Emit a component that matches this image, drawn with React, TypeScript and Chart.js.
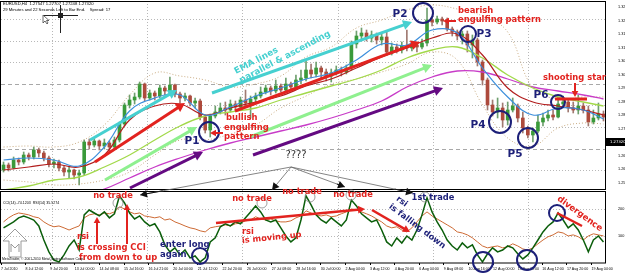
import React, { useEffect, useRef } from 'react';
import { Chart, registerables } from 'chart.js';
Chart.register(...registerables);

// ---------- DATA ----------
const dateLabels = [
  '7 Jul 2010', '8 Jul 12:00', '9 Jul 20:00', '13 Jul 00:00', '14 Jul 08:00', '15 Jul 16:00',
  '16 Jul 21:00', '20 Jul 04:00', '21 Jul 12:00', '22 Jul 20:00', '26 Jul 00:00', '27 Jul 08:00',
  '28 Jul 16:00', '30 Jul 00:00', '2 Aug 04:00', '3 Aug 12:00', '4 Aug 20:00', '6 Aug 04:00',
  '9 Aug 08:00', '10 Aug 16:00', '12 Aug 00:00', '13 Aug 08:00', '16 Aug 12:00', '17 Aug 20:00', '19 Aug 04:00',
];
const candlesPerLabel = 4.88;

const firstOpen = 1.2620;
const closes = [
  1.2640, 1.2628, 1.2660, 1.2652, 1.2680, 1.2672, 1.2700, 1.2688, 1.2668, 1.2644,
  1.2652, 1.2628, 1.2612, 1.2620, 1.2600, 1.2608, 1.2732, 1.2720, 1.2736, 1.2716,
  1.2728, 1.2712, 1.2740, 1.2804, 1.2880, 1.2900, 1.2912, 1.2964, 1.2908, 1.2928,
  1.2916, 1.2948, 1.2936, 1.2960, 1.2924, 1.2908, 1.2916, 1.2888, 1.2896, 1.2832,
  1.2780, 1.2836, 1.2852, 1.2868, 1.2860, 1.2884, 1.2872, 1.2900, 1.2888, 1.2904,
  1.2916, 1.2932, 1.2948, 1.2936, 1.2956, 1.2940, 1.2964, 1.2952, 1.2980, 1.2988,
  1.3020, 1.3004, 1.3028, 1.3012, 1.2996, 1.3008, 1.3020, 1.3012, 1.3028, 1.3124,
  1.3156, 1.3168, 1.3148, 1.3160, 1.3140, 1.3152, 1.3092, 1.3112, 1.3100, 1.3116,
  1.3108, 1.3120, 1.3112, 1.3128, 1.3220, 1.3212, 1.3224, 1.3216, 1.3184, 1.3172,
  1.3156, 1.3164, 1.3120, 1.3140, 1.3052, 1.2980, 1.2880, 1.2852, 1.2868, 1.2820,
  1.2860, 1.2876, 1.2828, 1.2788, 1.2760, 1.2776, 1.2812, 1.2828, 1.2840, 1.2832,
  1.2884, 1.2892, 1.2868, 1.2860, 1.2876, 1.2860, 1.2812, 1.2828, 1.2844, 1.2832,
];
const highs = [
  1.2652, 1.2648, 1.2672, 1.2668, 1.2692, 1.2688, 1.2712, 1.2708, 1.2696, 1.2676,
  1.2664, 1.2660, 1.2636, 1.2632, 1.2624, 1.2620, 1.2740, 1.2744, 1.2748, 1.2740,
  1.2744, 1.2736, 1.2752, 1.2812, 1.2888, 1.2920, 1.2928, 1.2972, 1.2968, 1.2940,
  1.2936, 1.2960, 1.2956, 1.2992, 1.2964, 1.2932, 1.2928, 1.2920, 1.2908, 1.2904,
  1.2840, 1.2844, 1.2876, 1.2888, 1.2892, 1.2900, 1.2896, 1.2912, 1.2940, 1.2916,
  1.2928, 1.2952, 1.2960, 1.2956, 1.2980, 1.2964, 1.2988, 1.2972, 1.3000, 1.3020,
  1.3060, 1.3044, 1.3052, 1.3036, 1.3024, 1.3024, 1.3036, 1.3032, 1.3040, 1.3136,
  1.3176, 1.3188, 1.3180, 1.3176, 1.3168, 1.3164, 1.3172, 1.3128, 1.3124, 1.3132,
  1.3180, 1.3136, 1.3132, 1.3144, 1.3268, 1.3228, 1.3236, 1.3232, 1.3228, 1.3192,
  1.3180, 1.3176, 1.3176, 1.3160, 1.3148, 1.3060, 1.2988, 1.2900, 1.2908, 1.2888,
  1.2892, 1.2908, 1.2884, 1.2852, 1.2796, 1.2788, 1.2840, 1.2848, 1.2860, 1.2860,
  1.2912, 1.2916, 1.2900, 1.2892, 1.2920, 1.2888, 1.2876, 1.2860, 1.2888, 1.2856,
];
const lows = [
  1.2612, 1.2616, 1.2624, 1.2640, 1.2644, 1.2660, 1.2664, 1.2672, 1.2656, 1.2632,
  1.2628, 1.2616, 1.2596, 1.2588, 1.2584, 1.2560, 1.2600, 1.2704, 1.2712, 1.2700,
  1.2704, 1.2696, 1.2704, 1.2732, 1.2796, 1.2868, 1.2884, 1.2904, 1.2896, 1.2900,
  1.2900, 1.2908, 1.2920, 1.2928, 1.2912, 1.2888, 1.2896, 1.2876, 1.2868, 1.2820,
  1.2768, 1.2752, 1.2828, 1.2844, 1.2840, 1.2852, 1.2856, 1.2864, 1.2876, 1.2828,
  1.2888, 1.2908, 1.2924, 1.2920, 1.2928, 1.2932, 1.2936, 1.2940, 1.2944, 1.2964,
  1.2976, 1.2988, 1.2992, 1.2984, 1.2976, 1.2972, 1.3000, 1.2996, 1.3004, 1.3020,
  1.3108, 1.3140, 1.3136, 1.3132, 1.3124, 1.3120, 1.3080, 1.3080, 1.3088, 1.3088,
  1.3096, 1.3096, 1.3092, 1.3104, 1.3116, 1.3196, 1.3204, 1.3200, 1.3176, 1.3156,
  1.3140, 1.3124, 1.3092, 1.3068, 1.3036, 1.2960, 1.2860, 1.2836, 1.2828, 1.2792,
  1.2800, 1.2852, 1.2812, 1.2768, 1.2748, 1.2732, 1.2768, 1.2796, 1.2816, 1.2820,
  1.2828, 1.2872, 1.2852, 1.2848, 1.2844, 1.2848, 1.2796, 1.2804, 1.2820, 1.2816,
];

// moving averages & bands sampled every 5 candles
const maIndex = [0, 5, 10, 15, 20, 25, 30, 35, 40, 45, 50, 55, 60, 65, 70, 75, 80, 85, 90, 95, 100, 105, 110, 115, 119];
const emaFast = [1.2660, 1.2668, 1.2660, 1.2636, 1.2712, 1.2856, 1.2908, 1.2920, 1.2840, 1.2872, 1.2916, 1.2948, 1.2984, 1.3008, 1.3060, 1.3124, 1.3120, 1.3180, 1.3168, 1.3028, 1.2912, 1.2840, 1.2868, 1.2860, 1.2824];
const emaMid = [1.2620, 1.2632, 1.2644, 1.2632, 1.2680, 1.2820, 1.2876, 1.2884, 1.2840, 1.2868, 1.2892, 1.2916, 1.2956, 1.2984, 1.3028, 1.3072, 1.3108, 1.3148, 1.3164, 1.3080, 1.2948, 1.2892, 1.2876, 1.2860, 1.2840];
const emaSlow = [1.2540, 1.2556, 1.2580, 1.2592, 1.2632, 1.2680, 1.2740, 1.2796, 1.2836, 1.2852, 1.2868, 1.2900, 1.2928, 1.2956, 1.2984, 1.3020, 1.3068, 1.3100, 1.3112, 1.3068, 1.3000, 1.2948, 1.2912, 1.2892, 1.2876];
const emaLong = [1.2440, 1.2468, 1.2492, 1.2516, 1.2544, 1.2588, 1.2632, 1.2668, 1.2700, 1.2728, 1.2752, 1.2776, 1.2800, 1.2828, 1.2860, 1.2896, 1.2952, 1.2992, 1.3016, 1.3012, 1.2984, 1.2952, 1.2936, 1.2920, 1.2904];
const bandUpper = [1.2712, 1.2716, 1.2712, 1.2732, 1.2800, 1.2920, 1.3008, 1.2996, 1.2980, 1.2952, 1.2964, 1.2996, 1.3072, 1.3112, 1.3188, 1.3220, 1.3260, 1.3280, 1.3264, 1.3236, 1.3172, 1.2948, 1.2904, 1.2912, 1.2912];
const bandLower = [1.2580, 1.2572, 1.2560, 1.2564, 1.2580, 1.2612, 1.2680, 1.2740, 1.2740, 1.2764, 1.2800, 1.2868, 1.2916, 1.2964, 1.2984, 1.3012, 1.3044, 1.3092, 1.3060, 1.2880, 1.2748, 1.2716, 1.2788, 1.2808, 1.2804];

// lower window: CCI (green) and RSI (orange)
const cci = [
  130, 141, 152, 167, 174, 167, 159, 137, 85, 41,
  11, 4, 30, 63, 85, 48, 178, 196, 185, 174,
  189, 167, 182, 248, 222, 185, 163, 174, 152, 137,
  145, 115, 67, 41, 56, 30, 48, 19, 26, 4,
  19, 78, 93, 134, 145, 137, 152, 145, 167, 189,
  211, 189, 159, 152, 159, 130, 100, 78, 93, 159,
  248, 215, 178, 159, 148, 167, 152, 137, 159, 233,
  211, 182, 167, 152, 159, 122, 78, 63, 93, 74,
  100, 85, 122, 178, 241, 189, 152, 122, 85, 63,
  48, 74, 56, 67, 30, 4, 34, 56, 41, 48,
  63, 56, 34, 15, 30, 56, 85, 115, 137, 152,
  185, 159, 130, 145, 122, 85, 41, 85, 100, 78,
];
const rsi = [
  152, 167, 178, 185, 182, 178, 171, 167, 152, 141,
  134, 137, 130, 122, 130, 137, 167, 178, 182, 178,
  185, 182, 189, 208, 200, 189, 182, 185, 174, 171,
  167, 171, 159, 163, 152, 145, 137, 130, 126, 119,
  115, 130, 134, 137, 141, 137, 145, 148, 156, 159,
  171, 163, 159, 163, 156, 152, 152, 156, 167, 174,
  193, 185, 178, 174, 178, 171, 174, 182, 189, 200,
  196, 189, 182, 174, 163, 152, 137, 130, 134, 122,
  115, 130, 152, 174, 189, 174, 163, 152, 141, 130,
  115, 111, 104, 93, 78, 63, 56, 60, 63, 56,
  60, 71, 63, 52, 48, 56, 71, 85, 97, 104,
  115, 111, 100, 104, 97, 85, 100, 108, 104, 100,
];

const priceTicks = [1.3272, 1.3218, 1.3164, 1.3110, 1.3056, 1.3002, 1.2948, 1.2894, 1.2840, 1.2786, 1.2678, 1.2624, 1.2570];
const bidPrice = 1.2732;
const indTicks = [200, 100];
const gridPrices = [1.3224, 1.3136, 1.3052, 1.2964, 1.2880, 1.2792, 1.2704, 1.2620];
const dashedGridPrices = [1.2964, 1.2704];
const gridCandles = [9.6, 28.5, 47.3, 66.3, 85.2, 104.0];

// ---------- helpers ----------
const FONT = '"DejaVu Sans", sans-serif';
const bold = (s: number) => `bold ${s}px ${FONT}`;
const RED = '#e2231f';
const NAVY = '#1c1f78';
const CYAN = '#46d0d0';
const LGREEN = '#8ff08f';
const PURPLE = '#640a82';

function arrow(ctx: CanvasRenderingContext2D, x1: number, y1: number, x2: number, y2: number, color: string, w: number, head: number) {
  const a = Math.atan2(y2 - y1, x2 - x1);
  const c = Math.cos(a), s = Math.sin(a);
  ctx.save();
  ctx.strokeStyle = color; ctx.fillStyle = color; ctx.lineWidth = w; ctx.setLineDash([]);
  ctx.beginPath(); ctx.moveTo(x1, y1); ctx.lineTo(x2 - c * head * 0.7, y2 - s * head * 0.7); ctx.stroke();
  ctx.beginPath();
  ctx.moveTo(x2, y2);
  ctx.lineTo(x2 - head * c + head * 0.55 * s, y2 - head * s - head * 0.55 * c);
  ctx.lineTo(x2 - head * c - head * 0.55 * s, y2 - head * s + head * 0.55 * c);
  ctx.closePath(); ctx.fill();
  ctx.restore();
}
function line(ctx: CanvasRenderingContext2D, x1: number, y1: number, x2: number, y2: number, color: string, w: number) {
  ctx.save(); ctx.strokeStyle = color; ctx.lineWidth = w; ctx.setLineDash([]);
  ctx.beginPath(); ctx.moveTo(x1, y1); ctx.lineTo(x2, y2); ctx.stroke(); ctx.restore();
}
function text(ctx: CanvasRenderingContext2D, s: string, x: number, y: number, font: string, color: string, align: CanvasTextAlign = 'left', rot = 0) {
  ctx.save(); ctx.translate(x, y); if (rot) ctx.rotate(rot * Math.PI / 180);
  ctx.font = font; ctx.fillStyle = color; ctx.textAlign = align; ctx.textBaseline = 'middle';
  ctx.fillText(s, 0, 0); ctx.restore();
}
function circle(ctx: CanvasRenderingContext2D, x: number, y: number, r: number, color: string, w: number) {
  ctx.save(); ctx.strokeStyle = color; ctx.lineWidth = w; ctx.setLineDash([]);
  ctx.beginPath(); ctx.arc(x, y, r, 0, Math.PI * 2); ctx.stroke(); ctx.restore();
}

const gridPlugin = {
  id: 'mtGrid',
  beforeDatasetsDraw(chart: any) {
    const ctx = chart.ctx, ca = chart.chartArea, xs = chart.scales.x, ys = chart.scales.y, yi = chart.scales.yi;
    ctx.save();
    ctx.lineWidth = 1;
    ctx.strokeStyle = '#b8b8b8';
    ctx.setLineDash([1, 2]);
    gridCandles.forEach((v) => {
      const x = Math.round(xs.getPixelForValue(v)) + 0.5;
      ctx.beginPath(); ctx.moveTo(x, ca.top); ctx.lineTo(x, ca.bottom); ctx.stroke();
    });
    gridPrices.forEach((p) => {
      const y = Math.round(ys.getPixelForValue(p)) + 0.5;
      if (dashedGridPrices.includes(p)) { ctx.setLineDash([4, 3]); ctx.strokeStyle = '#a8a8a8'; }
      else { ctx.setLineDash([1, 2]); ctx.strokeStyle = '#b8b8b8'; }
      ctx.beginPath(); ctx.moveTo(ca.left, y); ctx.lineTo(ca.right, y); ctx.stroke();
    });
    ctx.setLineDash([1, 2]); ctx.strokeStyle = '#b8b8b8';
    indTicks.forEach((v) => {
      const y = Math.round(yi.getPixelForValue(v)) + 0.5;
      ctx.beginPath(); ctx.moveTo(ca.left, y); ctx.lineTo(ca.right, y); ctx.stroke();
    });
    ctx.restore();
  },
};

const notesPlugin = {
  id: 'mtNotes',
  afterDraw(chart: any) {
    const ctx: CanvasRenderingContext2D = chart.ctx;
    const ca = chart.chartArea, ys = chart.scales.y, yi = chart.scales.yi;
    ctx.save();
    // frames
    ctx.strokeStyle = '#000'; ctx.lineWidth = 1; ctx.setLineDash([]);
    ctx.strokeRect(ca.left - 0.5, ys.top + 0.5, ca.right - ca.left, ys.bottom - ys.top - 1);
    ctx.strokeRect(ca.left - 0.5, yi.top + 1.5, ca.right - ca.left, yi.bottom - yi.top - 1.5);
    // bid label
    const by = ys.getPixelForValue(bidPrice);
    ctx.fillStyle = '#000'; ctx.fillRect(ca.right, by - 4, 19, 8);
    text(ctx, bidPrice.toFixed(5), ca.right + 4, by, `3.8px ${FONT}`, '#fff');

    // header
    text(ctx, 'EURUSD,H4  1.27547 1.27707 1.27248 1.27320', 3, 4, '4.2px "Liberation Sans"', '#000');
    text(ctx, '29 Minutes and 22 Seconds Left to Bar End.    Spread: 17', 3, 10, '4.2px "Liberation Sans"', '#000');
    // crosshair + cursor
    line(ctx, 60.5, 5, 60.5, 33, '#222', 1);
    line(ctx, 44, 15.5, 78, 15.5, '#222', 1);
    ctx.fillStyle = '#222'; ctx.fillRect(58, 13, 5, 5);
    ctx.beginPath(); ctx.moveTo(43, 15); ctx.lineTo(43, 23); ctx.lineTo(45, 21); ctx.lineTo(47, 24); ctx.lineTo(48, 23); ctx.lineTo(46.5, 20.5); ctx.lineTo(49, 20.5); ctx.closePath();
    ctx.fillStyle = '#fff'; ctx.fill(); ctx.strokeStyle = '#444'; ctx.lineWidth = 0.8; ctx.stroke();

    // trend arrows
    arrow(ctx, 90, 140, 177, 90, CYAN, 3, 9);
    arrow(ctx, 212, 93, 412, 22, CYAN, 3, 9);
    arrow(ctx, 95, 162, 185, 103, RED, 3, 9);
    arrow(ctx, 235, 111, 420, 42, RED, 3, 9);
    arrow(ctx, 105, 180, 197, 127, LGREEN, 3, 9);
    arrow(ctx, 250, 137, 432, 65, LGREEN, 3, 9);
    arrow(ctx, 130, 188, 203, 152, PURPLE, 3, 9);
    arrow(ctx, 253, 155, 443, 88, PURPLE, 3, 9);
    text(ctx, 'EMA lines', 235, 72, bold(8.8), CYAN, 'left', -28);
    text(ctx, 'parallel & ascending', 240, 81, bold(8.8), CYAN, 'left', -28);

    // pivot circles
    circle(ctx, 209, 132, 10, NAVY, 2);
    circle(ctx, 423, 13, 10, NAVY, 2);
    circle(ctx, 468, 34, 8, NAVY, 2);
    circle(ctx, 500, 122, 11, NAVY, 2);
    circle(ctx, 528, 138, 10, NAVY, 2);
    circle(ctx, 558, 102, 7, NAVY, 2);
    text(ctx, 'P1', 192, 141, bold(10.5), NAVY, 'center');
    text(ctx, 'P2', 400, 14, bold(10.5), NAVY, 'center');
    text(ctx, 'P3', 484, 34, bold(10.5), NAVY, 'center');
    text(ctx, 'P4', 478, 125, bold(10.5), NAVY, 'center');
    text(ctx, 'P5', 515, 154, bold(10.5), NAVY, 'center');
    text(ctx, 'P6', 541, 95, bold(10.5), NAVY, 'center');

    // candle patterns
    text(ctx, 'bullish', 226, 118, bold(8.4), RED);
    text(ctx, 'engulfing', 224, 128, bold(8.4), RED);
    text(ctx, 'pattern', 224, 137, bold(8.4), RED);
    arrow(ctx, 223, 133, 210, 133, RED, 2, 6);
    text(ctx, 'bearish', 458, 11, bold(8.4), RED);
    text(ctx, 'engulfing pattern', 458, 20, bold(8.4), RED);
    arrow(ctx, 456, 21, 443, 21, RED, 2, 6);
    text(ctx, 'shooting star', 543, 78, bold(8.4), RED);
    arrow(ctx, 575, 83, 575, 97, RED, 2, 6);
    line(ctx, 555, 99, 587, 99, RED, 3);

    // question fan
    text(ctx, '????', 296, 155, `10px ${FONT}`, '#333', 'center');
    const apex = [291, 167];
    [[140, 195], [272, 190], [345, 187], [413, 193]].forEach(([tx, ty]) => {
      line(ctx, apex[0], apex[1], tx, ty, '#666', 0.8);
      arrow(ctx, apex[0] + (tx - apex[0]) * 0.85, apex[1] + (ty - apex[1]) * 0.85, tx, ty, '#111', 1, 7);
    });

    // lower window notes
    [[118, 203], [262, 203], [310, 197], [351, 195], [425, 197]].forEach(([cx, cy]) => circle(ctx, cx, cy, 5, '#888', 0.8));
    text(ctx, 'no trade', 113, 196, bold(8.3), RED, 'center');
    text(ctx, 'no trade', 252, 199, bold(8.3), RED, 'center');
    text(ctx, 'no trade', 302, 192, bold(8.3), RED, 'center');
    text(ctx, 'no trade', 353, 195, bold(8.3), RED, 'center');
    text(ctx, '1st trade', 433, 198, bold(8.3), NAVY, 'center');

    text(ctx, 'rsi', 77, 237, bold(8.4), RED);
    text(ctx, 'is crossing CCI', 77, 248, bold(8.4), RED);
    text(ctx, 'from down to up', 79, 258, bold(8.4), RED);
    arrow(ctx, 97, 244, 97, 217, RED, 2, 6);
    arrow(ctx, 127, 244, 127, 204, RED, 2, 6);

    text(ctx, 'enter long', 160, 245, bold(8.5), NAVY);
    text(ctx, 'again', 160, 255, bold(8.5), NAVY);
    circle(ctx, 200, 256, 8, NAVY, 2);

    text(ctx, 'rsi', 242, 232, bold(8.3), RED);
    text(ctx, 'is moving up', 242, 241, bold(8.3), RED, 'left', -6);
    arrow(ctx, 216, 223, 365, 209, RED, 2.5, 7);

    ctx.save(); ctx.translate(397, 198); ctx.rotate(37 * Math.PI / 180);
    text(ctx, 'rsi', 0, 0, bold(8.3), NAVY);
    text(ctx, 'is falling down', -1, 10.6, bold(8.3), NAVY);
    ctx.restore();
    arrow(ctx, 372, 210, 410, 232, RED, 2.5, 7);

    text(ctx, 'divergence', 558, 198, bold(8.6), RED, 'left', 36);
    circle(ctx, 557, 213, 8, NAVY, 2);
    line(ctx, 557, 213, 582, 226, RED, 2.5);
    circle(ctx, 483, 262, 10, NAVY, 2);
    circle(ctx, 527, 260, 10, NAVY, 2);

    // indicator caption, logo arrow, copyright
    text(ctx, 'CCI(14) -74.1203  RSI(14) 35.5274', 3, 203, '3.6px "Liberation Sans"', '#000');
    ctx.beginPath();
    ctx.moveTo(15, 229); ctx.lineTo(27, 241); ctx.lineTo(21, 241); ctx.lineTo(21, 257); ctx.lineTo(9, 257); ctx.lineTo(9, 241); ctx.lineTo(3, 241); ctx.closePath();
    ctx.strokeStyle = '#9a9a9a'; ctx.lineWidth = 1; ctx.stroke();
    ctx.beginPath(); ctx.moveTo(11, 252); ctx.lineTo(11, 244); ctx.lineTo(15, 248); ctx.lineTo(19, 244); ctx.lineTo(19, 252); ctx.stroke();
    text(ctx, 'MetaTrader, \u00a9 2001-2010 MetaQuotes Software Corp.', 2, 259, '3.4px "Liberation Sans"', '#000');
    ctx.restore();
  },
};

export default function App() {
  const ref = useRef<HTMLCanvasElement>(null);
  useEffect(() => {
    document.body.style.margin = '0';
    const opens = closes.map((c, i) => (i === 0 ? firstOpen : closes[i - 1]));
    const bodies = closes.map((c, i) => ({ x: i, y: [opens[i], c] }));
    const wicks = closes.map((c, i) => ({ x: i, y: [lows[i], highs[i]] }));
    const bodyColors = closes.map((c, i) => (c >= opens[i] ? '#3a9a3a' : '#ad4a3c'));
    const wickColors = closes.map((c, i) => (c >= opens[i] ? '#6f9f6f' : '#a07a72'));
    const ma = (vals: number[]) => maIndex.map((x, k) => ({ x, y: vals[k] }));
    const ind = (vals: number[]) => vals.map((v, i) => ({ x: i, y: v }));
    const lineDs = (label: string, data: any[], color: string, width: number, order: number, axis: string, dash: number[] = [], tension = 0.4) => ({
      type: 'line' as const, label, data, borderColor: color, borderWidth: width, borderDash: dash,
      pointRadius: 0, tension, yAxisID: axis, xAxisID: 'x', order, fill: false,
    });
    const dateTicks = dateLabels.map((_, k) => -0.5 + k * candlesPerLabel);

    const chart = new Chart(ref.current as HTMLCanvasElement, {
      type: 'bar',
      data: {
        datasets: [
          { type: 'bar', label: 'wicks', data: wicks as any, backgroundColor: wickColors, barThickness: 1, grouped: false, yAxisID: 'y', xAxisID: 'x', order: 21 } as any,
          { type: 'bar', label: 'bodies', data: bodies as any, backgroundColor: bodyColors, barThickness: 3, minBarLength: 1, grouped: false, yAxisID: 'y', xAxisID: 'x', order: 20 } as any,
          lineDs('Bands upper', ma(bandUpper), '#c9ab82', 1, 9, 'y', [1, 2]),
          lineDs('Bands lower', ma(bandLower), '#c9ab82', 1, 9, 'y', [1, 2]),
          lineDs('EMA long', ma(emaLong), '#c83cc8', 1.3, 6, 'y'),
          lineDs('EMA slow', ma(emaSlow), '#a2d94a', 1.3, 5, 'y'),
          lineDs('EMA mid', ma(emaMid), '#b21e1e', 1.2, 4, 'y'),
          lineDs('EMA fast', ma(emaFast), '#3d8fdc', 1.2, 3, 'y'),
          lineDs('RSI', ind(rsi), '#cd6a34', 1, 2, 'yi', [], 0),
          lineDs('CCI', ind(cci), '#0b5e0b', 1.5, 1, 'yi', [], 0),
        ],
      },
      options: {
        responsive: false,
        devicePixelRatio: 1,
        animation: false,
        events: [],
        layout: { padding: { left: 1, top: 1, right: 0, bottom: 0 } },
        font: { family: FONT },
        plugins: { legend: { display: false }, tooltip: { enabled: false } },
        scales: {
          x: {
            type: 'linear', min: -0.5, max: 119.5, offset: false, position: 'bottom',
            grid: { display: true, drawOnChartArea: false, drawTicks: true, tickLength: 2, color: '#000', offset: false },
            border: { display: false },
            afterBuildTicks: (s: any) => { s.ticks = dateTicks.map((v) => ({ value: v })); },
            afterFit: (s: any) => { s.height = 12; s.paddingLeft = 0; s.paddingRight = 0; },
            ticks: {
              autoSkip: false, maxRotation: 0, minRotation: 0, align: 'start', padding: 2,
              color: '#000', font: { size: 3.6, family: '"Liberation Sans"' },
              callback: (_v: any, i: number) => dateLabels[i],
            },
          },
          y: {
            type: 'linear', position: 'right', stack: 'win', stackWeight: 189,
            min: 1.2540, max: 1.3296,
            grid: { display: false }, border: { display: false },
            afterBuildTicks: (s: any) => { s.ticks = priceTicks.map((v) => ({ value: v })); },
            afterFit: (s: any) => { s.width = 19; s.paddingTop = 0; s.paddingBottom = 0; },
            ticks: { padding: 4, color: '#000', font: { size: 3.8, family: '"Liberation Sans"' }, callback: (v: any) => Number(v).toFixed(5) },
          },
          yi: {
            type: 'linear', position: 'right', stack: 'win', stackWeight: 73,
            min: 0, max: 270,
            grid: { display: false }, border: { display: false },
            afterBuildTicks: (s: any) => { s.ticks = indTicks.map((v) => ({ value: v })); },
            afterFit: (s: any) => { s.width = 19; s.paddingTop = 0; s.paddingBottom = 0; },
            ticks: { padding: 4, color: '#000', font: { size: 3.8, family: '"Liberation Sans"' }, callback: (v: any) => String(v) },
          },
        } as any,
      },
      plugins: [gridPlugin, notesPlugin],
    } as any);
    return () => chart.destroy();
  }, []);
  return (
    <div style={{ position: 'absolute', left: 0, top: 0, width: 625, height: 275, background: '#fff' }}>
      <canvas ref={ref} width={625} height={275} style={{ display: 'block', width: 625, height: 275 }} />
    </div>
  );
}
